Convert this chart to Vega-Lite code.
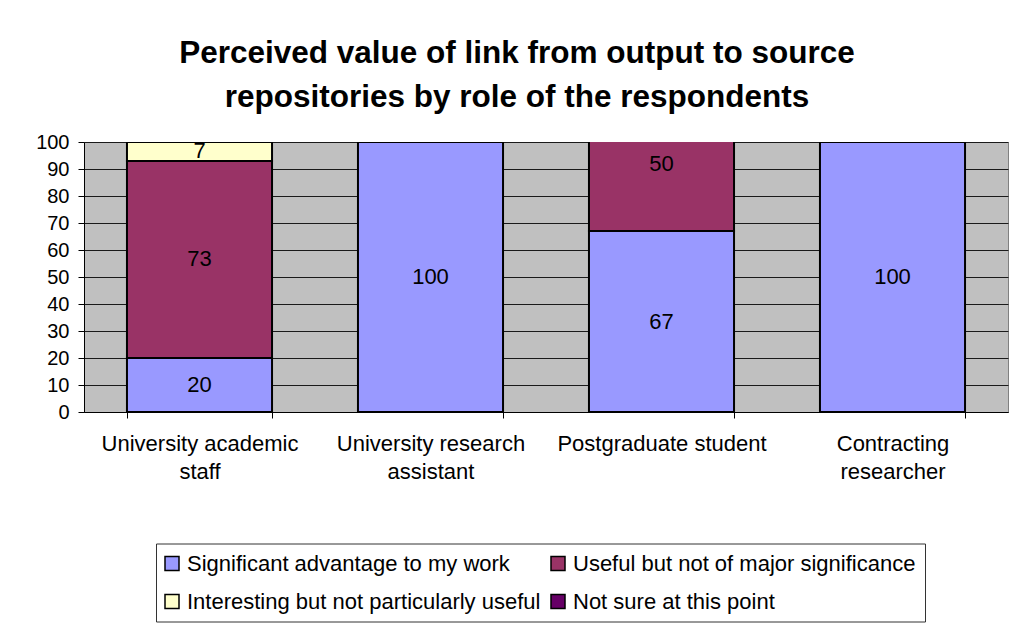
{
  "$schema": "https://vega.github.io/schema/vega-lite/v6.json",
  "width": 924,
  "height": 270,
  "autosize": {"type": "none"},
  "padding": {"left": 84, "top": 142, "right": 2, "bottom": 212},
  "background": "white",
  "config": {
    "font": "Liberation Sans",
    "view": {"fill": "#C0C0C0", "stroke": "#808080", "strokeWidth": 1}
  },
  "title": {
    "text": ["Perceived value of link from output to source", "repositories by role of the respondents"],
    "fontSize": 31.5,
    "fontWeight": "bold",
    "font": "Liberation Sans",
    "color": "#000000",
    "anchor": "middle",
    "frame": "group",
    "dx": -29,
    "offset": 19,
    "lineHeight": 44
  },
  "data": {
    "values": [
      {"role": "University academic staff", "response": "Significant advantage to my work", "rank": 1, "percent": 20},
      {"role": "University academic staff", "response": "Useful but not of major significance", "rank": 2, "percent": 73},
      {"role": "University academic staff", "response": "Interesting but not particularly useful", "rank": 3, "percent": 7},
      {"role": "University research assistant", "response": "Significant advantage to my work", "rank": 1, "percent": 100},
      {"role": "Postgraduate student", "response": "Significant advantage to my work", "rank": 1, "percent": 67},
      {"role": "Postgraduate student", "response": "Useful but not of major significance", "rank": 2, "percent": 50},
      {"role": "Contracting researcher", "response": "Significant advantage to my work", "rank": 1, "percent": 100}
    ]
  },
  "encoding": {
    "x": {
      "field": "role",
      "type": "nominal",
      "sort": null,
      "scale": {"paddingInner": 0.372, "paddingOuter": 0.186},
      "axis": {
        "title": null,
        "tickBand": "extent",
        "domainColor": "#000000",
        "domainWidth": 1,
        "tickColor": "#000000",
        "tickSize": 6,
        "labelFontSize": 22,
        "labelColor": "#000000",
        "labelPadding": 15,
        "labelLineHeight": 28,
        "labelLimit": 400,
        "labelAngle": 0,
        "labelExpr": "datum.label == 'University academic staff' ? ['University academic', 'staff'] : datum.label == 'University research assistant' ? ['University research', 'assistant'] : datum.label == 'Contracting researcher' ? ['Contracting', 'researcher'] : datum.label"
      }
    },
    "y": {
      "field": "percent",
      "type": "quantitative",
      "stack": "zero",
      "scale": {"domain": [0, 100], "nice": false},
      "axis": {
        "title": null,
        "values": [0, 10, 20, 30, 40, 50, 60, 70, 80, 90, 100],
        "labelOverlap": false,
        "grid": true,
        "gridColor": "#1a1a1a",
        "gridWidth": 1,
        "domainColor": "#000000",
        "tickColor": "#000000",
        "tickSize": 6,
        "labelFontSize": 20,
        "labelColor": "#000000",
        "labelPadding": 9
      }
    },
    "order": {"field": "rank"}
  },
  "layer": [
    {
      "mark": {"type": "bar", "stroke": "#000000", "strokeWidth": 2, "clip": true},
      "encoding": {
        "color": {
          "field": "response",
          "type": "nominal",
          "scale": {
            "domain": ["Significant advantage to my work", "Useful but not of major significance", "Interesting but not particularly useful", "Not sure at this point"],
            "range": ["#9999FF", "#993366", "#FFFFCC", "#660066"]
          },
          "legend": {
            "title": null,
            "orient": "none",
            "legendX": 72,
            "legendY": 401.5,
            "direction": "horizontal",
            "columns": 2,
            "symbolType": "square",
            "symbolSize": 196,
            "symbolOffset": -4,
            "symbolStrokeColor": "#000000",
            "symbolStrokeWidth": 1.5,
            "symbolOpacity": 1,
            "labelFontSize": 22,
            "labelColor": "#000000",
            "labelLimit": 500,
            "labelOffset": 4,
            "columnPadding": 7,
            "rowPadding": 16,
            "padding": 9,
            "strokeColor": "#333333",
            "fillColor": "#ffffff"
          }
        }
      }
    },
    {
      "mark": {"type": "text", "fontSize": 22, "color": "#000000"},
      "encoding": {
        "y": {"field": "percent", "type": "quantitative", "stack": "zero", "bandPosition": 0.5},
        "detail": {"field": "response"},
        "text": {"field": "percent", "type": "quantitative"}
      }
    }
  ]
}
